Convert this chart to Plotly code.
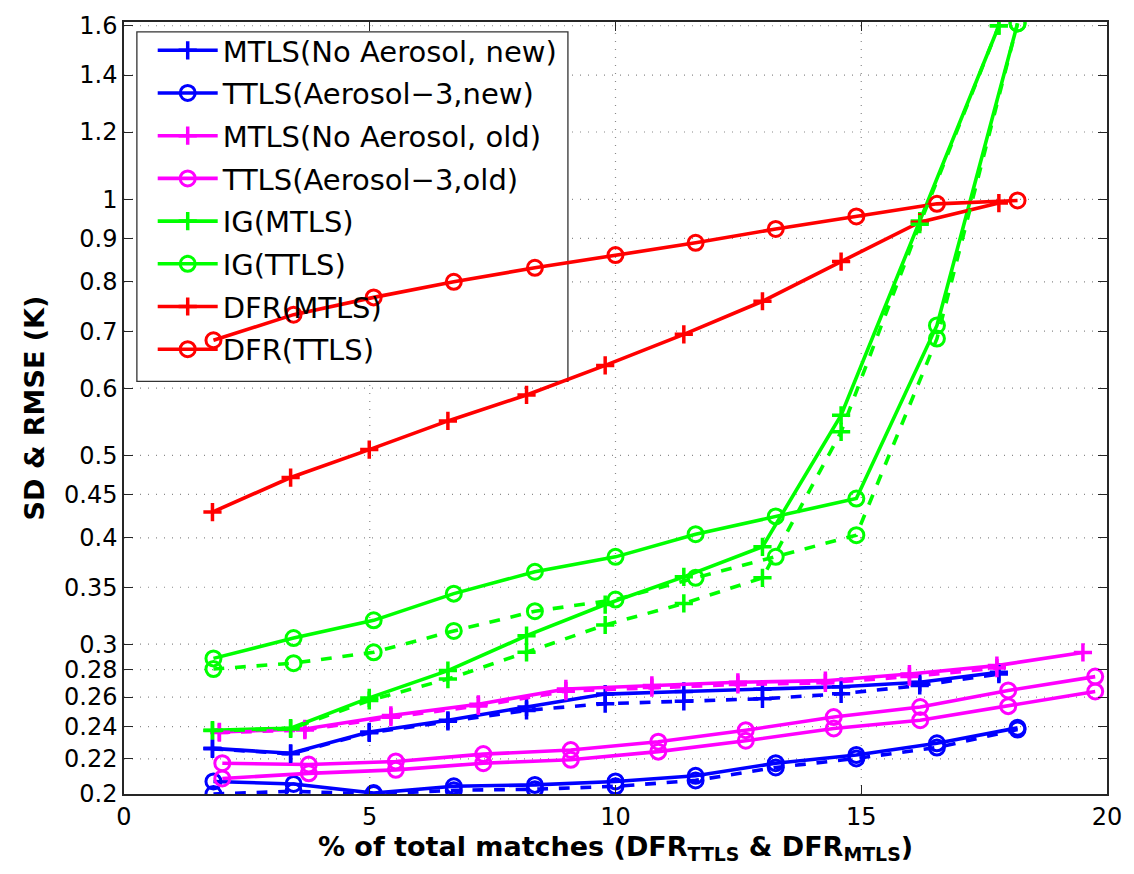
import plotly.graph_objects as go

# ---- x positions (% of total matches) ----
x_mtls_new = [1.80, 3.39, 4.99, 6.59, 8.19, 9.79, 11.39, 12.99, 14.59, 16.19, 17.80]
x_ttls_new = [1.82, 3.45, 5.08, 6.71, 8.36, 10.00, 11.63, 13.26, 14.90, 16.54, 18.18]
x_mtls_old = [1.94, 3.68, 5.43, 7.21, 8.99, 10.74, 12.49, 14.27, 15.98, 17.76, 19.51]
x_ttls_old = [2.00, 3.76, 5.53, 7.31, 9.09, 10.87, 12.65, 14.44, 16.20, 17.99, 19.76]

# ---- MTLS (No Aerosol, new), blue '+' ----
mtls_new_sd = [0.2263, 0.2233, 0.2366, 0.2442, 0.2531, 0.2621, 0.2640, 0.2656, 0.2674, 0.2706, 0.2780]
mtls_new_rmse = [0.2260, 0.2230, 0.2360, 0.2435, 0.2508, 0.2554, 0.2570, 0.2588, 0.2623, 0.2683, 0.2767]

# ---- TTLS (Aerosol-3, new), blue 'o' ----
ttls_new_sd = [0.2069, 0.2055, 0.2005, 0.2042, 0.2050, 0.2069, 0.2101, 0.2174, 0.2223, 0.2294, 0.2392]
ttls_new_rmse = [0.2000, 0.2015, 0.2000, 0.2020, 0.2026, 0.2042, 0.2075, 0.2149, 0.2202, 0.2268, 0.2381]

# ---- MTLS (No Aerosol, old), magenta '+' ----
mtls_old_a = [0.2366, 0.2385, 0.2474, 0.2550, 0.2658, 0.2683, 0.2706, 0.2718, 0.2767, 0.2831, 0.2934]
mtls_old_b = [0.2362, 0.2378, 0.2462, 0.2538, 0.2642, 0.2668, 0.2690, 0.2702, 0.2748, 0.2812]

# ---- TTLS (Aerosol-3, old), magenta 'o' ----
ttls_old_a = [0.2174, 0.2166, 0.2184, 0.2228, 0.2253, 0.2304, 0.2377, 0.2463, 0.2531, 0.2647, 0.2748]
ttls_old_b = [0.2086, 0.2115, 0.2135, 0.2174, 0.2194, 0.2243, 0.2310, 0.2388, 0.2442, 0.2537, 0.2640]

# ---- IG (MTLS), green '+' ----
ig_mtls_sd = [0.2377, 0.2390, 0.2594, 0.2793, 0.3070, 0.3340, 0.3600, 0.3905, 0.5575, 0.9430, 1.600]
ig_mtls_rmse = [0.2375, 0.2385, 0.2576, 0.2730, 0.2935, 0.3160, 0.3350, 0.3590, 0.5330, 0.9350, 1.600]

# ---- IG (TTLS), green 'o' ----
ig_ttls_sd = [0.2887, 0.3050, 0.3200, 0.3440, 0.3650, 0.3800, 0.4040, 0.4240, 0.4450, 0.7110, 1.610]
ig_ttls_rmse = [0.2805, 0.2850, 0.2935, 0.3110, 0.3280, 0.3385, 0.3590, 0.3800, 0.4030, 0.6860, 1.610]

# ---- DFR, red ----
dfr_mtls = [0.429, 0.471, 0.508, 0.549, 0.589, 0.638, 0.694, 0.759, 0.845, 0.940, 0.990]
dfr_ttls = [0.683, 0.732, 0.767, 0.800, 0.831, 0.860, 0.889, 0.923, 0.955, 0.988, 0.997]

# ---- axis ticks ----
y_ticks = [0.2, 0.22, 0.24, 0.26, 0.28, 0.3, 0.35, 0.4, 0.45, 0.5, 0.6, 0.7, 0.8, 0.9, 1, 1.2, 1.4, 1.6]
y_tick_text = ["0.2", "0.22", "0.24", "0.26", "0.28", "0.3", "0.35", "0.4", "0.45", "0.5",
               "0.6", "0.7", "0.8", "0.9", "1", "1.2", "1.4", "1.6"]
x_ticks = [0, 5, 10, 15, 20]

BLUE, MAGENTA, GREEN, RED = "#0000ff", "#ff00ff", "#00ff00", "#ff0000"
LW = 3.6
GRID = dict(color="#8a8a8a", width=1.2, dash="1px,7px")

fig = go.Figure()


def add(x, y, color, symbol, name=None, dash="solid", group=None):
    cross = symbol == "cross-thin"
    fig.add_trace(go.Scatter(
        x=x, y=y, mode="lines+markers",
        name=name if name else group,
        showlegend=name is not None,
        legendgroup=name if name else group,
        line=dict(color=color, width=LW, dash=dash),
        marker=dict(symbol=symbol, size=13 if cross else 15, color=color,
                    line=dict(color=color, width=3.5 if cross else 3)),
    ))


# solid (legend) series
add(x_mtls_new, mtls_new_sd, BLUE, "cross-thin", "MTLS(No Aerosol, new)")
add(x_ttls_new, ttls_new_sd, BLUE, "circle-open", "TTLS(Aerosol\u22123,new)")
add(x_mtls_old, mtls_old_a, MAGENTA, "cross-thin", "MTLS(No Aerosol, old)")
add(x_ttls_old, ttls_old_a, MAGENTA, "circle-open", "TTLS(Aerosol\u22123,old)")
add(x_mtls_new, ig_mtls_sd, GREEN, "cross-thin", "IG(MTLS)")
add(x_ttls_new, ig_ttls_sd, GREEN, "circle-open", "IG(TTLS)")
add(x_mtls_new, dfr_mtls, RED, "cross-thin", "DFR(MTLS)")
add(x_ttls_new, dfr_ttls, RED, "circle-open", "DFR(TTLS)")

# companion series
add(x_mtls_new, mtls_new_rmse, BLUE, "cross-thin", dash="dash", group="MTLS(No Aerosol, new)")
add(x_ttls_new, ttls_new_rmse, BLUE, "circle-open", dash="dash", group="TTLS(Aerosol\u22123,new)")
add(x_mtls_old[:10], mtls_old_b, MAGENTA, "cross-thin", dash="dash", group="MTLS(No Aerosol, old)")
add(x_ttls_old, ttls_old_b, MAGENTA, "circle-open", group="TTLS(Aerosol\u22123,old)")
add(x_mtls_new, ig_mtls_rmse, GREEN, "cross-thin", dash="dash", group="IG(MTLS)")
add(x_ttls_new, ig_ttls_rmse, GREEN, "circle-open", dash="dash", group="IG(TTLS)")

# dotted grid, drawn underneath the data (shape y values are data values on the log axis)
for v in y_ticks[1:]:
    fig.add_shape(type="line", xref="x domain", yref="y", x0=0, x1=1,
                  y0=v, y1=v, line=GRID, layer="below")
for v in x_ticks[1:-1]:
    fig.add_shape(type="line", xref="x", yref="y domain", x0=v, x1=v,
                  y0=0, y1=1, line=GRID, layer="below")

# legend frame: white box covering the grid, under the data lines
fig.add_shape(
    type="rect", xref="x domain", yref="y domain",
    x0=0.0131, x1=0.4516, y0=0.5346, y1=0.9872,
    fillcolor="white", line=dict(color="#333333", width=1.3), layer="below",
)

axis_common = dict(
    showline=True, linecolor="#262626", linewidth=1.5, mirror="ticks",
    ticks="inside", ticklen=9, tickcolor="#262626", tickwidth=1.2,
    showgrid=False, zeroline=False,
    tickfont=dict(family="DejaVu Sans", size=24, color="black"),
)

fig.update_xaxes(
    range=[0, 20], tickvals=x_ticks, ticktext=[str(v) for v in x_ticks],
    title=dict(text="% of total matches (DFR<sub>TTLS</sub> & DFR<sub>MTLS</sub>)",
               font=dict(family="DejaVu Sans", size=27, color="black", weight="bold"),
               standoff=4),
    **axis_common,
)
fig.update_yaxes(
    type="log", range=[-0.69897, 0.2085],
    tickvals=y_ticks, ticktext=y_tick_text,
    title=dict(text="SD & RMSE (K)",
               font=dict(family="DejaVu Sans", size=27, color="black", weight="bold"),
               standoff=12),
    **axis_common,
)

fig.update_layout(
    width=1134, height=874,
    margin=dict(l=124, r=18, t=14, b=80),
    paper_bgcolor="white", plot_bgcolor="rgba(0,0,0,0)",
    font=dict(family="DejaVu Sans", color="black"),
    legend=dict(
        x=0.0292, y=0.9962, xanchor="left", yanchor="top",
        bgcolor="rgba(0,0,0,0)", borderwidth=0,
        font=dict(family="DejaVu Sans", size=29, color="black"),
        itemwidth=60, tracegroupgap=2,
    ),
)

fig.write_html("out.html")
